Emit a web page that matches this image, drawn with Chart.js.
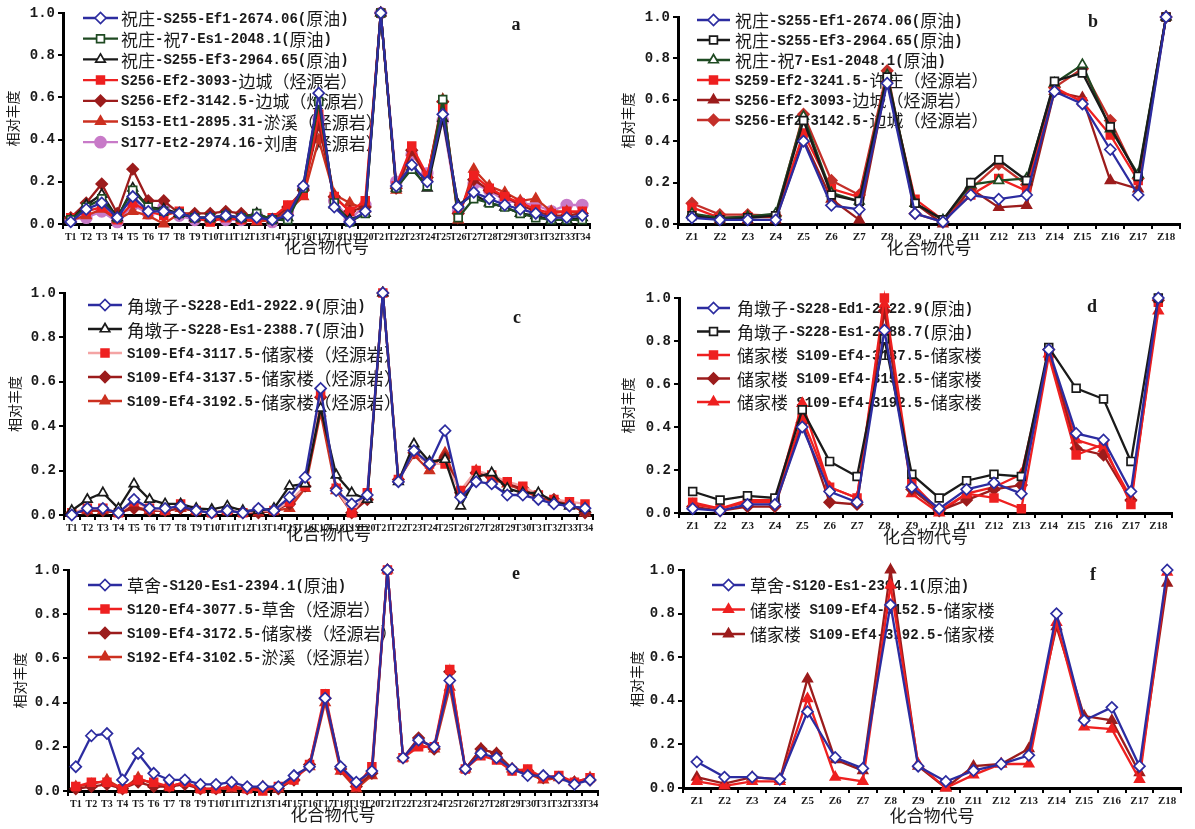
<!DOCTYPE html>
<html>
<head>
<meta charset="utf-8">
<script src="https://cdn.jsdelivr.net/npm/chart.js"></script>
<style>
  body { margin: 0; background: #fff; width: 1195px; height: 829px; position: relative; overflow: hidden; }
  canvas { position: absolute; }
</style>
</head>
<body>
<canvas id="pa" width="600" height="262" style="left:0;top:0"></canvas>
<canvas id="pb" width="595" height="262" style="left:600px;top:0"></canvas>
<canvas id="pc" width="600" height="282" style="left:0;top:272px"></canvas>
<canvas id="pd" width="595" height="282" style="left:600px;top:272px"></canvas>
<canvas id="pe" width="605" height="281" style="left:0;top:548px"></canvas>
<canvas id="pf" width="595" height="281" style="left:600px;top:548px"></canvas>
<script>
// category labels
const tLabels = ['T1','T2','T3','T4','T5','T6','T7','T8','T9','T10','T11','T12','T13','T14','T15','T16','T17',
  'T18','T19','T20','T21','T22','T23','T24','T25','T26','T27','T28','T29','T30','T31','T32','T33','T34'];
const zLabels = ['Z1','Z2','Z3','Z4','Z5','Z6','Z7','Z8','Z9','Z10','Z11','Z12','Z13','Z14','Z15','Z16','Z17','Z18'];

// panel a
const aS255Ef1 = [0.01,0.07,0.10,0.03,0.13,0.06,0.06,0.05,0.03,0.03,0.04,0.03,0.03,0.02,0.04,0.18,0.62,0.08,0.01,0.06,1.0,0.18,0.28,0.20,0.52,0.08,0.15,0.12,0.09,0.07,0.05,0.03,0.03,0.04];
const aZhu7Es1 = [0.02,0.08,0.12,0.03,0.16,0.08,0.06,0.05,0.03,0.03,0.04,0.03,0.05,0.02,0.02,0.17,0.58,0.10,0.01,0.05,1.0,0.17,0.26,0.18,0.59,0.03,0.12,0.10,0.08,0.05,0.03,0.02,0.02,0.02];
const aS255Ef3 = [0.02,0.09,0.14,0.03,0.17,0.08,0.07,0.05,0.03,0.03,0.04,0.03,0.05,0.02,0.03,0.18,0.60,0.09,0.02,0.05,1.0,0.17,0.27,0.17,0.50,0.09,0.14,0.10,0.08,0.05,0.04,0.02,0.02,0.03];
const aS256_3093 = [0.03,0.06,0.08,0.02,0.10,0.06,0.04,0.06,0.03,0.01,0.03,0.02,0.02,0.03,0.09,0.14,0.52,0.13,0.06,0.11,1.0,0.18,0.37,0.23,0.55,0.04,0.23,0.17,0.13,0.10,0.07,0.05,0.06,0.06];
const aS256_3142 = [0.03,0.10,0.19,0.05,0.26,0.11,0.11,0.05,0.05,0.05,0.06,0.05,0.03,0.02,0.08,0.16,0.47,0.13,0.06,0.08,1.0,0.17,0.35,0.22,0.58,0.05,0.21,0.16,0.13,0.09,0.06,0.04,0.04,0.05];
const aS153 = [0.02,0.04,0.07,0.02,0.06,0.04,0.00,0.05,0.03,0.02,0.03,0.02,0.01,0.02,0.06,0.13,0.40,0.14,0.10,0.07,1.0,0.16,0.34,0.22,0.59,0.02,0.26,0.18,0.15,0.11,0.12,0.06,0.06,0.05];
const aS177 = [0.02,0.03,0.06,0.01,0.09,0.05,0.08,0.04,0.02,0.02,0.02,0.02,0.04,0.01,0.06,0.17,0.50,0.11,0.02,0.09,1.0,0.20,0.33,0.24,0.49,0.06,0.19,0.16,0.11,0.10,0.09,0.06,0.09,0.09];

// panel b
const bS255Ef1 = [0.03,0.02,0.02,0.02,0.40,0.09,0.07,0.68,0.05,0.01,0.14,0.12,0.14,0.64,0.58,0.36,0.14,1.0];
const bS255Ef3 = [0.04,0.02,0.03,0.04,0.50,0.14,0.11,0.71,0.10,0.02,0.20,0.31,0.21,0.69,0.73,0.47,0.23,1.0];
const bZhu7Es1 = [0.05,0.03,0.035,0.05,0.52,0.15,0.11,0.72,0.10,0.02,0.19,0.21,0.22,0.68,0.77,0.46,0.24,1.0];
const bS259 = [0.08,0.03,0.035,0.035,0.44,0.17,0.13,0.70,0.12,0.02,0.14,0.22,0.16,0.66,0.59,0.43,0.21,1.0];
const bS256_3093 = [0.05,0.02,0.02,0.02,0.41,0.12,0.02,0.70,0.10,0.00,0.17,0.08,0.09,0.64,0.61,0.21,0.17,1.0];
const bS256_3142 = [0.10,0.045,0.045,0.04,0.53,0.21,0.14,0.74,0.05,0.01,0.17,0.29,0.19,0.66,0.75,0.50,0.22,1.0];

// panel c
const cEd1 = [0.00,0.03,0.03,0.01,0.07,0.03,0.03,0.04,0.02,0.01,0.02,0.01,0.03,0.02,0.08,0.17,0.57,0.11,0.05,0.09,1.0,0.15,0.29,0.23,0.38,0.08,0.15,0.14,0.09,0.09,0.07,0.05,0.04,0.03];
const cEs1 = [0.02,0.07,0.10,0.03,0.14,0.07,0.05,0.05,0.03,0.025,0.04,0.02,0.02,0.03,0.13,0.14,0.48,0.18,0.10,0.07,1.0,0.15,0.32,0.24,0.25,0.04,0.17,0.19,0.12,0.10,0.10,0.06,0.04,0.03];
const cS109_3117 = [0.01,0.03,0.03,0.01,0.06,0.03,0.02,0.05,0.02,0.01,0.02,0.01,0.02,0.02,0.06,0.13,0.55,0.12,0.01,0.10,1.0,0.16,0.28,0.23,0.23,0.11,0.20,0.18,0.15,0.13,0.09,0.07,0.06,0.05];
const cS109_3137 = [0.01,0.02,0.02,0.01,0.03,0.02,0.02,0.03,0.02,0.01,0.02,0.01,0.01,0.02,0.05,0.13,0.53,0.12,0.01,0.07,1.0,0.16,0.28,0.23,0.26,0.10,0.19,0.17,0.14,0.12,0.08,0.07,0.05,0.01];
const cS109_3192 = [0.01,0.02,0.02,0.01,0.04,0.02,0.02,0.03,0.02,0.01,0.02,0.01,0.01,0.02,0.03,0.12,0.46,0.11,0.01,0.08,1.0,0.16,0.27,0.20,0.28,0.10,0.20,0.16,0.14,0.11,0.08,0.06,0.05,0.01];

// panel d
const dEd1 = [0.02,0.01,0.04,0.04,0.40,0.10,0.05,0.85,0.12,0.02,0.11,0.14,0.09,0.76,0.37,0.34,0.10,1.0];
const dEs1 = [0.10,0.06,0.08,0.07,0.48,0.24,0.17,0.81,0.18,0.07,0.15,0.18,0.17,0.77,0.58,0.53,0.24,1.0];
const dS109_3137 = [0.05,0.02,0.06,0.06,0.44,0.12,0.07,1.0,0.14,0.01,0.09,0.07,0.02,0.73,0.27,0.32,0.04,0.98];
const dS109_3152 = [0.03,0.01,0.03,0.03,0.42,0.05,0.04,0.94,0.11,0.01,0.06,0.11,0.13,0.76,0.30,0.27,0.06,0.99];
const dS109_3192 = [0.04,0.02,0.05,0.05,0.51,0.12,0.07,0.97,0.09,0.00,0.09,0.12,0.18,0.74,0.34,0.30,0.07,0.94];

// panel e
const eS120Es1 = [0.11,0.25,0.26,0.05,0.17,0.08,0.05,0.05,0.03,0.03,0.04,0.02,0.02,0.02,0.07,0.11,0.42,0.11,0.04,0.09,1.0,0.15,0.23,0.20,0.50,0.10,0.17,0.15,0.10,0.07,0.07,0.06,0.03,0.05];
const eS120Ef4 = [0.02,0.04,0.04,0.01,0.05,0.04,0.02,0.04,0.01,0.01,0.02,0.01,0.00,0.02,0.05,0.12,0.44,0.10,0.02,0.11,1.0,0.15,0.20,0.20,0.55,0.10,0.16,0.14,0.09,0.10,0.06,0.07,0.04,0.06];
const eS109_3172 = [0.01,0.02,0.03,0.01,0.04,0.02,0.02,0.03,0.01,0.01,0.02,0.01,0.01,0.01,0.05,0.12,0.42,0.10,0.02,0.08,1.0,0.15,0.24,0.19,0.54,0.10,0.19,0.17,0.10,0.09,0.06,0.06,0.04,0.05];
const eS192 = [0.02,0.03,0.05,0.01,0.06,0.03,0.02,0.04,0.01,0.01,0.01,0.01,0.02,0.01,0.06,0.11,0.40,0.09,0.01,0.07,1.0,0.15,0.21,0.19,0.47,0.10,0.19,0.17,0.10,0.08,0.05,0.06,0.04,0.06];

// panel f
const fS120Es1 = [0.12,0.05,0.05,0.04,0.35,0.14,0.09,0.84,0.10,0.03,0.08,0.11,0.15,0.80,0.31,0.37,0.10,1.0];
const fS109_3152 = [0.03,0.01,0.03,0.03,0.41,0.05,0.03,0.93,0.11,0.00,0.06,0.11,0.11,0.76,0.28,0.27,0.04,0.99];
const fS109_3192 = [0.05,0.02,0.05,0.04,0.50,0.13,0.08,1.0,0.10,0.00,0.10,0.11,0.18,0.74,0.33,0.31,0.07,0.94];

// line/marker looks
const styles = {
  blueDia:   { line: '#2c2ca0', fill: '#ffffff', edge: '#2c2ca0', shape: 'rectRot', r: 5.5 },
  greenSq:   { line: '#1f4a22', fill: '#ffffff', edge: '#1f4a22', shape: 'rect', r: 5.5 },
  greenTri:  { line: '#1f4a22', fill: '#ffffff', edge: '#1f4a22', shape: 'triangle', r: 5.5 },
  blackSq:   { line: '#1a1a1a', fill: '#ffffff', edge: '#1a1a1a', shape: 'rect', r: 5.5 },
  blackTri:  { line: '#1a1a1a', fill: '#ffffff', edge: '#1a1a1a', shape: 'triangle', r: 5.5 },
  redSq:     { line: '#ee2020', fill: '#ee2020', edge: '#ee2020', shape: 'rect', r: 5.5 },
  redTri:    { line: '#ee2020', fill: '#ee2020', edge: '#ee2020', shape: 'triangle', r: 5.5 },
  pinkRedSq: { line: '#f4a4a4', fill: '#ee2020', edge: '#ee2020', shape: 'rect', r: 5.5 },
  darkDia:   { line: '#9c1c1c', fill: '#9c1c1c', edge: '#9c1c1c', shape: 'rectRot', r: 5.5 },
  darkTri:   { line: '#9c1c1c', fill: '#9c1c1c', edge: '#9c1c1c', shape: 'triangle', r: 5.5 },
  brickTri:  { line: '#cc3020', fill: '#cc3020', edge: '#cc3020', shape: 'triangle', r: 5.5 },
  brickDia:  { line: '#c4302a', fill: '#c4302a', edge: '#c4302a', shape: 'rectRot', r: 5.5 },
  violetDot: { line: '#c87ac8', fill: '#c87ac8', edge: '#c87ac8', shape: 'circle', r: 5.5 }
};

function series(label, data, st) {
  const s = styles[st];
  return {
    label: label, data: data,
    borderColor: s.line, borderWidth: 2.3,
    pointStyle: s.shape, pointRadius: s.r,
    pointBackgroundColor: s.fill, pointBorderColor: s.edge, pointBorderWidth: 1.7,
    tension: 0, clip: false
  };
}

// draws legend text with narrow latin glyphs and wide CJK glyphs, like the source figure
function drawMixed(ctx, text, x, y, latinPx, cjkPx) {
  const runs = text.match(/[\u3000-\u9fff\uff00-\uffef]+|[^\u3000-\u9fff\uff00-\uffef]+/g) || [];
  runs.forEach(run => {
    const cjk = /[\u3000-\u9fff\uff00-\uffef]/.test(run);
    ctx.font = cjk ? cjkPx + 'px "Noto Sans CJK SC"' : 'bold ' + latinPx + 'px "Liberation Mono", monospace';
    ctx.fillText(run, x, y);
    x += ctx.measureText(run).width;
  });
}

// legend inside plot + panel letter, drawn under the data lines
const panelDeco = {
  id: 'panelDeco',
  beforeDatasetsDraw(chart, args, o) {
    const ctx = chart.ctx;
    ctx.save();
    chart.data.datasets.forEach((ds, i) => {
      const y = o.y0 + i * o.dy;
      ctx.strokeStyle = ds.borderColor;
      ctx.lineWidth = ds.borderWidth;
      ctx.beginPath();
      ctx.moveTo(o.x0, y);
      ctx.lineTo(o.x1, y);
      ctx.stroke();
      ctx.fillStyle = ds.pointBackgroundColor;
      ctx.strokeStyle = ds.pointBorderColor;
      ctx.lineWidth = ds.pointBorderWidth;
      Chart.helpers.drawPoint(ctx, {
        pointStyle: ds.pointStyle, radius: ds.pointRadius, rotation: 0, borderWidth: ds.pointBorderWidth
      }, (o.x0 + o.x1) / 2, y);
      ctx.fillStyle = '#1a1a1a';
      ctx.textBaseline = 'middle';
      ctx.textAlign = 'left';
      drawMixed(ctx, ds.label, o.tx, y + 1, o.latin, o.cjk);
    });
    ctx.font = 'bold 18px "Liberation Serif", serif';
    ctx.textAlign = 'center';
    ctx.fillText(o.letter, o.lx, o.ly);
    ctx.restore();
  }
};

function makePanel(id, labels, datasets, f) {
  return new Chart(document.getElementById(id), {
    type: 'line',
    data: { labels: labels, datasets: datasets },
    plugins: [panelDeco],
    options: {
      responsive: false,
      animation: false,
      layout: { padding: { left: 0, top: f.top, right: f.right, bottom: 0 } },
      plugins: {
        legend: { display: false },
        tooltip: { enabled: false },
        panelDeco: f.deco
      },
      scales: {
        x: {
          offset: true,
          grid: { drawOnChartArea: false, offset: true, tickLength: 5, tickColor: '#000', lineWidth: 2 },
          border: { color: '#000', width: 3 },
          ticks: {
            autoSkip: false, maxRotation: 0, minRotation: 0, padding: 2, color: '#1a1a1a',
            font: { family: '"Liberation Serif", serif', size: f.xFont, weight: 'bold' }
          },
          title: {
            display: true, text: '化合物代号', color: '#1a1a1a',
            font: { family: '"Noto Sans CJK SC"', size: 17 },
            padding: { top: 0, bottom: f.xTitlePad }
          },
          afterFit(s) { s.height = f.xH; }
        },
        y: {
          min: 0, max: 1,
          grid: { drawOnChartArea: false, tickLength: 5, tickColor: '#000', lineWidth: 2 },
          border: { color: '#000', width: 3 },
          ticks: {
            stepSize: 0.2, padding: 3, color: '#1a1a1a',
            callback: v => v.toFixed(1),
            font: { family: '"Liberation Mono", monospace', size: 14, weight: 'bold' }
          },
          title: {
            display: true, text: '相对丰度', color: '#1a1a1a',
            font: { family: '"Noto Sans CJK SC"', size: 14 },
            padding: { top: f.yTitlePad, bottom: 0 }
          },
          afterFit(s) { s.width = f.yW; }
        }
      }
    }
  });
}

makePanel('pa', tLabels, [
  series('祝庄-S255-Ef1-2674.06(原油)', aS255Ef1, 'blueDia'),
  series('祝庄-祝7-Es1-2048.1(原油)', aZhu7Es1, 'greenSq'),
  series('祝庄-S255-Ef3-2964.65(原油)', aS255Ef3, 'blackTri'),
  series('S256-Ef2-3093-边城（烃源岩）', aS256_3093, 'redSq'),
  series('S256-Ef2-3142.5-边城（烃源岩）', aS256_3142, 'darkDia'),
  series('S153-Et1-2895.31-淤溪（烃源岩）', aS153, 'brickTri'),
  series('S177-Et2-2974.16-刘唐（烃源岩）', aS177, 'violetDot')
], { top: 13, right: 10, xH: 38, yW: 63, xFont: 10, xTitlePad: 5, yTitlePad: 4,
     deco: { x0: 83, x1: 118, tx: 121, y0: 18, dy: 20.7, latin: 14, cjk: 17, letter: 'a', lx: 516, ly: 25 } });

makePanel('pb', zLabels, [
  series('祝庄-S255-Ef1-2674.06(原油)', bS255Ef1, 'blueDia'),
  series('祝庄-S255-Ef3-2964.65(原油)', bS255Ef3, 'blackSq'),
  series('祝庄-祝7-Es1-2048.1(原油)', bZhu7Es1, 'greenTri'),
  series('S259-Ef2-3241.5-许庄（烃源岩）', bS259, 'redSq'),
  series('S256-Ef2-3093-边城（烃源岩）', bS256_3093, 'darkTri'),
  series('S256-Ef2-3142.5-边城（烃源岩）', bS256_3142, 'brickDia')
], { top: 17, right: 15, xH: 38, yW: 78, xFont: 11, xTitlePad: 4, yTitlePad: 19,
     deco: { x0: 97, x1: 130, tx: 135, y0: 20, dy: 20, latin: 14, cjk: 17, letter: 'b', lx: 493, ly: 22 } });

makePanel('pc', tLabels, [
  series('角墩子-S228-Ed1-2922.9(原油)', cEd1, 'blueDia'),
  series('角墩子-S228-Es1-2388.7(原油)', cEs1, 'blackTri'),
  series('S109-Ef4-3117.5-储家楼（烃源岩）', cS109_3117, 'pinkRedSq'),
  series('S109-Ef4-3137.5-储家楼（烃源岩）', cS109_3137, 'darkDia'),
  series('S109-Ef4-3192.5-储家楼（烃源岩）', cS109_3192, 'brickTri')
], { top: 21, right: 4, xH: 39, yW: 64, xFont: 10, xTitlePad: 10, yTitlePad: 6,
     deco: { x0: 88, x1: 122, tx: 127, y0: 33, dy: 24, latin: 14, cjk: 17.5, letter: 'c', lx: 517, ly: 46 } });

makePanel('pd', zLabels, [
  series('角墩子-S228-Ed1-2922.9(原油)', dEd1, 'blueDia'),
  series('角墩子-S228-Es1-2388.7(原油)', dEs1, 'blackSq'),
  series('储家楼 S109-Ef4-3137.5-储家楼', dS109_3137, 'redSq'),
  series('储家楼 S109-Ef4-3152.5-储家楼', dS109_3152, 'darkDia'),
  series('储家楼 S109-Ef4-3192.5-储家楼', dS109_3192, 'redTri')
], { top: 26, right: 23, xH: 41, yW: 79, xFont: 11, xTitlePad: 7, yTitlePad: 19,
     deco: { x0: 97, x1: 130, tx: 137, y0: 36, dy: 23.5, latin: 14, cjk: 17, letter: 'd', lx: 492, ly: 35 } });

makePanel('pe', tLabels, [
  series('草舍-S120-Es1-2394.1(原油)', eS120Es1, 'blueDia'),
  series('S120-Ef4-3077.5-草舍（烃源岩）', eS120Ef4, 'redSq'),
  series('S109-Ef4-3172.5-储家楼（烃源岩）', eS109_3172, 'darkDia'),
  series('S192-Ef4-3102.5-淤溪（烃源岩）', eS192, 'brickTri')
], { top: 22, right: 3, xH: 38, yW: 68, xFont: 10, xTitlePad: 4, yTitlePad: 11,
     deco: { x0: 88, x1: 122, tx: 127, y0: 37, dy: 24, latin: 14, cjk: 17, letter: 'e', lx: 516, ly: 26 } });

makePanel('pf', zLabels, [
  series('草舍-S120-Es1-2394.1(原油)', fS120Es1, 'blueDia'),
  series('储家楼 S109-Ef4-3152.5-储家楼', fS109_3152, 'redTri'),
  series('储家楼 S109-Ef4-3192.5-储家楼', fS109_3192, 'darkTri')
], { top: 22, right: 14, xH: 41, yW: 83, xFont: 11, xTitlePad: 3, yTitlePad: 28,
     deco: { x0: 112, x1: 145, tx: 150, y0: 37, dy: 24.5, latin: 14, cjk: 17, letter: 'f', lx: 493, ly: 27 } });
</script>
</body>
</html>
